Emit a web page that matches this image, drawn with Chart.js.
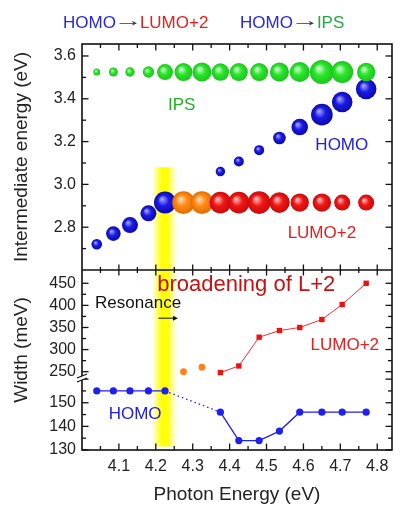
<!DOCTYPE html>
<html>
<head>
<meta charset="utf-8">
<script src="https://cdn.jsdelivr.net/npm/chart.js@4.4.0/dist/chart.umd.min.js"></script>
<style>
  html, body { margin: 0; padding: 0; background: #fff; }
  #wrap { position: relative; width: 400px; height: 506px; }
  .head { position: absolute; top: 13px; font: 17px "Liberation Sans", Arial, sans-serif; white-space: nowrap; }
  .b { color: #2727e6; } .r { color: #e41e1e; } .g { color: #22aa44; }
  .k { color: #333; display: inline-block; transform: translateY(-2px) scaleX(1.7); margin: 0 3px 0 4px; }
</style>
</head>
<body>
<div id="wrap">
  <canvas id="chart" width="400" height="506"></canvas>
  <div class="head" style="left:63px"><span class="b">HOMO</span><span class="k">→</span><span class="r">LUMO+2</span></div>
  <div class="head" style="left:240px"><span class="b">HOMO</span><span class="k">→</span><span class="g">IPS</span></div>
</div>
<script>
// photon energies (eV) shared by both panels
const photonEnergy = [4.04, 4.085, 4.13, 4.18, 4.225, 4.275, 4.325, 4.375, 4.425, 4.48, 4.535, 4.59, 4.65, 4.705, 4.77];
// LUMO+2 points that sit in the resonance (orange)
const resonanceEnergy = [4.275, 4.325];

// upper panel: intermediate energy (eV) and bubble radius (intensity)
const ipsEnergy = [3.525, 3.525, 3.525, 3.525, 3.525, 3.525, 3.525, 3.525, 3.525, 3.525, 3.525, 3.525, 3.525, 3.525, 3.525];
const ipsSize = [3.5, 4.5, 4.7, 5.7, 8, 9, 9.5, 8.7, 9, 9, 9.5, 10, 12, 11, 9.2];
const homoEnergy = [2.72, 2.77, 2.81, 2.865, 2.915, null, null, 3.06, 3.107, 3.16, 3.217, 3.268, 3.326, 3.385, 3.446];
const homoSize = [5.3, 7.3, 8, 8, 11, null, null, 4.7, 5, 5, 6.3, 8.3, 10.8, 10.3, 10.3];
const lumoEnergy = [null, null, null, null, null, 2.915, 2.915, 2.915, 2.915, 2.915, 2.915, 2.915, 2.915, 2.915, 2.915];
const lumoSize = [null, null, null, null, null, 11.3, 11.3, 10.8, 10.8, 11.3, 10.3, 9.2, 9.2, 8, 8];

// lower panel: width (meV)
const homoWidth = [155, 155, 155, 155, 155, null, null, 146, 134, 134, 138, 146, 146, 146, 146];
const lumoWidth = [null, null, null, null, null, 250, 260, 248, 263, 328, 343, 350, 368, 402, 450];

// ticks
const xTicks = [4.1, 4.2, 4.3, 4.4, 4.5, 4.6, 4.7, 4.8];
const xMinor = [4.05, 4.15, 4.25, 4.35, 4.45, 4.55, 4.65, 4.75];
const eTicks = [2.8, 3.0, 3.2, 3.4, 3.6];
const eMinor = [2.7, 2.9, 3.1, 3.3, 3.5];
const wHighTicks = [250, 300, 350, 400, 450];
const wHighMinor = [275, 325, 375, 425];
const wLowTicks = [130, 140, 150];
const wLowMinor = [135, 145, 155];

const FONT = '"Liberation Sans", Arial, sans-serif';
const isRes = x => resonanceEnergy.includes(x);

function pts(ys, rs, keep) {
  return photonEnergy.map((x, i) => ys[i] == null || (keep && !keep(x)) ? null : { x, y: ys[i], r: rs ? rs[i] : undefined })
    .filter(Boolean);
}

function sphere(pick) {
  return ctx => {
    const col = pick(ctx);
    if (ctx.type !== 'data' || !ctx.raw) return col[0];
    const c = ctx.chart;
    const ds = c.data.datasets[ctx.datasetIndex];
    const x = c.scales.x.getPixelForValue(ctx.raw.x);
    const y = c.scales[ds.yAxisID].getPixelForValue(ctx.raw.y);
    const r = ctx.raw.r;
    if (!isFinite(x) || !isFinite(y)) return col[0];
    const g = c.ctx.createRadialGradient(x - r * 0.3, y - r * 0.35, 0, x, y, r);
    g.addColorStop(0, col[1]);
    g.addColorStop(0.5, col[0]);
    g.addColorStop(1, col[2]);
    return g;
  };
}
const GREEN = ['#2ae62a', '#e6ffe6', '#1cc41c'];
const BLUE = ['#1a1ae8', '#b4b4ff', '#0a0aa8'];
const RED = ['#f01616', '#ffcccc', '#c80a0a'];
const ORANGE = ['#ff8c16', '#ffe2c4', '#e26c00'];

function fixTicks(list) {
  return scale => { scale.ticks = list.map(v => ({ value: v })); };
}
const yBase = {
  type: 'linear', position: 'left', stack: 'panels',
  grid: { display: false, drawTicks: false }, border: { display: false },
  ticks: { padding: 6, autoSkip: false, color: '#222', font: { family: FONT, size: 16 } },
  afterFit: s => { s.width = 82; }
};

const notes = [
  { text: 'IPS', x: 4.27, y: 3.37, axis: 'yE', color: '#22b02a', size: 17 },
  { text: 'HOMO', x: 4.704, y: 3.184, axis: 'yE', color: '#2020e6', size: 17 },
  { text: 'LUMO+2', x: 4.65, y: 2.773, axis: 'yE', color: '#e81e1e', size: 17 },
  { text: 'broadening of L+2', x: 4.445, y: 446, axis: 'yHigh', color: '#c81010', size: 22 },
  { text: 'Resonance', x: 4.152, y: 405, axis: 'yHigh', color: '#111', size: 17 },
  { text: 'LUMO+2', x: 4.712, y: 310, axis: 'yHigh', color: '#e81e1e', size: 17 },
  { text: 'HOMO', x: 4.144, y: 145.2, axis: 'yLow', color: '#2020e6', size: 17 }
];

const framePlugin = {
  id: 'frame',
  beforeDatasetsDraw(chart) {
    const { ctx, scales } = chart;
    const x0 = scales.x.getPixelForValue(4.19), x1 = scales.x.getPixelForValue(4.262);
    const y0 = scales.yE.getPixelForValue(3.08), y1 = scales.yLow.getPixelForValue(131.5);
    const g = ctx.createLinearGradient(x0, 0, x1, 0);
    g.addColorStop(0, 'rgba(255,255,0,0)');
    g.addColorStop(0.18, 'rgba(255,255,0,0.55)');
    g.addColorStop(0.38, 'rgba(255,255,0,1)');
    g.addColorStop(0.6, 'rgba(255,255,0,0.95)');
    g.addColorStop(0.82, 'rgba(255,255,80,0.35)');
    g.addColorStop(1, 'rgba(255,255,200,0)');
    ctx.save();
    ctx.fillStyle = g;
    ctx.fillRect(x0, y0, x1 - x0, y1 - y0);
    ctx.restore();
  },
  afterDatasetsDraw(chart) {
    const { ctx, scales, chartArea } = chart;
    const { left, right, top, bottom } = chartArea;
    const sep = scales.yE.bottom;
    const brk = scales.yLow.top;
    ctx.save();

    notes.forEach(n => {
      ctx.font = n.size + 'px ' + FONT;
      ctx.fillStyle = n.color;
      ctx.textAlign = 'center';
      ctx.textBaseline = 'middle';
      ctx.fillText(n.text, scales.x.getPixelForValue(n.x), scales[n.axis].getPixelForValue(n.y));
    });

    // resonance arrow
    const ax0 = scales.x.getPixelForValue(4.207), ax1 = scales.x.getPixelForValue(4.26);
    const ay = scales.yHigh.getPixelForValue(371);
    ctx.strokeStyle = '#111'; ctx.fillStyle = '#111'; ctx.lineWidth = 1;
    ctx.beginPath(); ctx.moveTo(ax0, ay); ctx.lineTo(ax1 - 4, ay); ctx.stroke();
    ctx.beginPath(); ctx.moveTo(ax1, ay); ctx.lineTo(ax1 - 5, ay - 2.5); ctx.lineTo(ax1 - 5, ay + 2.5); ctx.closePath(); ctx.fill();

    // frame
    ctx.strokeStyle = '#111';
    ctx.lineWidth = 1.6;
    ctx.strokeRect(left, top, right - left, bottom - top);
    ctx.beginPath(); ctx.moveTo(left, sep); ctx.lineTo(right, sep); ctx.stroke();

    ctx.lineWidth = 1.3;
    const tick = (x0, y0, x1, y1) => { ctx.beginPath(); ctx.moveTo(x0, y0); ctx.lineTo(x1, y1); ctx.stroke(); };
    const xt = (list, len) => list.forEach(v => {
      const p = scales.x.getPixelForValue(v);
      tick(p, top, p, top + len);
      tick(p, sep - len + 1, p, sep + len - 1);
      tick(p, bottom - len, p, bottom);
    });
    xt(xTicks, 6.5); xt(xMinor, 4);
    const yt = (scale, list, len) => list.forEach(v => {
      const p = scales[scale].getPixelForValue(v);
      tick(left, p, left + len, p);
      tick(right - len, p, right, p);
    });
    yt('yE', eTicks, 6.5); yt('yE', eMinor, 4);
    yt('yHigh', wHighTicks, 6.5); yt('yHigh', wHighMinor, 4);
    yt('yLow', wLowTicks.concat([160]), 6.5); yt('yLow', wLowMinor, 4);

    // axis break
    ctx.fillStyle = '#fff';
    ctx.beginPath();
    ctx.moveTo(left - 5, brk + 1); ctx.lineTo(left + 5, brk - 3);
    ctx.lineTo(left + 5, brk + 1); ctx.lineTo(left - 5, brk + 5); ctx.closePath(); ctx.fill();
    ctx.lineWidth = 1.2;
    tick(left - 5, brk + 1, left + 5, brk - 3);
    tick(left - 5, brk + 5, left + 5, brk + 1);

    // y titles
    ctx.fillStyle = '#222';
    ctx.font = '19px ' + FONT;
    ctx.textAlign = 'center';
    ctx.textBaseline = 'middle';
    ctx.translate(22, (scales.yE.top + scales.yE.bottom) / 2);
    ctx.rotate(-Math.PI / 2);
    ctx.fillText('Intermediate energy (eV)', 0, 0);
    ctx.rotate(Math.PI / 2);
    ctx.translate(0, (scales.yHigh.top + scales.yLow.bottom) / 2 - 10 - (scales.yE.top + scales.yE.bottom) / 2);
    ctx.rotate(-Math.PI / 2);
    ctx.fillText('Width (meV)', 0, 0);
    ctx.restore();
  }
};

new Chart(document.getElementById('chart'), {
  type: 'bubble',
  data: {
    datasets: [
      { label: 'IPS', yAxisID: 'yE', order: 0, data: pts(ipsEnergy, ipsSize),
        backgroundColor: sphere(() => GREEN), borderWidth: 0 },
      { label: 'LUMO+2', yAxisID: 'yE', order: 1, data: pts(lumoEnergy, lumoSize),
        backgroundColor: sphere(c => (c.raw && isRes(c.raw.x)) ? ORANGE : RED), borderWidth: 0 },
      { label: 'HOMO', yAxisID: 'yE', order: 2, data: pts(homoEnergy, homoSize),
        backgroundColor: sphere(() => BLUE), borderWidth: 0 },
      { type: 'line', label: 'HOMO width', yAxisID: 'yLow', order: 3, data: pts(homoWidth),
        borderColor: '#1f1ff0', backgroundColor: '#1f1ff0', borderWidth: 1.3,
        pointRadius: 3.6, pointBorderWidth: 0, pointStyle: 'circle', spanGaps: true,
        segment: { borderDash: s => (s.p1.parsed.x - s.p0.parsed.x > 0.1 ? [1.5, 3] : undefined) } },
      { type: 'line', label: 'LUMO+2 width', yAxisID: 'yHigh', order: 3, data: pts(lumoWidth, null, x => !isRes(x)),
        borderColor: '#f03030', backgroundColor: '#f01010', borderWidth: 1,
        pointRadius: 3.8, pointBorderWidth: 0, pointStyle: 'rect' },
      { type: 'line', label: 'resonant width', yAxisID: 'yHigh', order: 3, data: pts(lumoWidth, null, isRes),
        showLine: false, backgroundColor: '#ff8018', pointRadius: 3.4, pointBorderWidth: 0 }
    ]
  },
  options: {
    responsive: false,
    animation: false,
    events: [],
    layout: { padding: { top: 44, right: 8, bottom: 0, left: 0 }, autoPadding: false },
    plugins: { legend: { display: false }, tooltip: { enabled: false } },
    scales: {
      x: {
        type: 'linear', min: 4.0, max: 4.84,
        grid: { display: false, drawTicks: false }, border: { display: false },
        afterBuildTicks: fixTicks(xTicks),
        ticks: { padding: 7, autoSkip: false, color: '#222', font: { family: FONT, size: 16 }, callback: v => v.toFixed(1) },
        title: { display: true, text: 'Photon Energy (eV)', color: '#222', font: { family: FONT, size: 19 }, padding: 0 },
        afterFit: s => { s.height = 56; }
      },
      yLow: Object.assign({}, yBase, { min: 130, max: 160.9, stackWeight: 73, afterBuildTicks: fixTicks(wLowTicks) }),
      yHigh: Object.assign({}, yBase, { min: 238, max: 480, stackWeight: 107, afterBuildTicks: fixTicks(wHighTicks) }),
      yE: Object.assign({}, yBase, { min: 2.6, max: 3.656, stackWeight: 226, afterBuildTicks: fixTicks(eTicks),
        ticks: Object.assign({}, yBase.ticks, { callback: v => v.toFixed(1) }) })
    }
  },
  plugins: [framePlugin]
});
</script>
</body>
</html>
